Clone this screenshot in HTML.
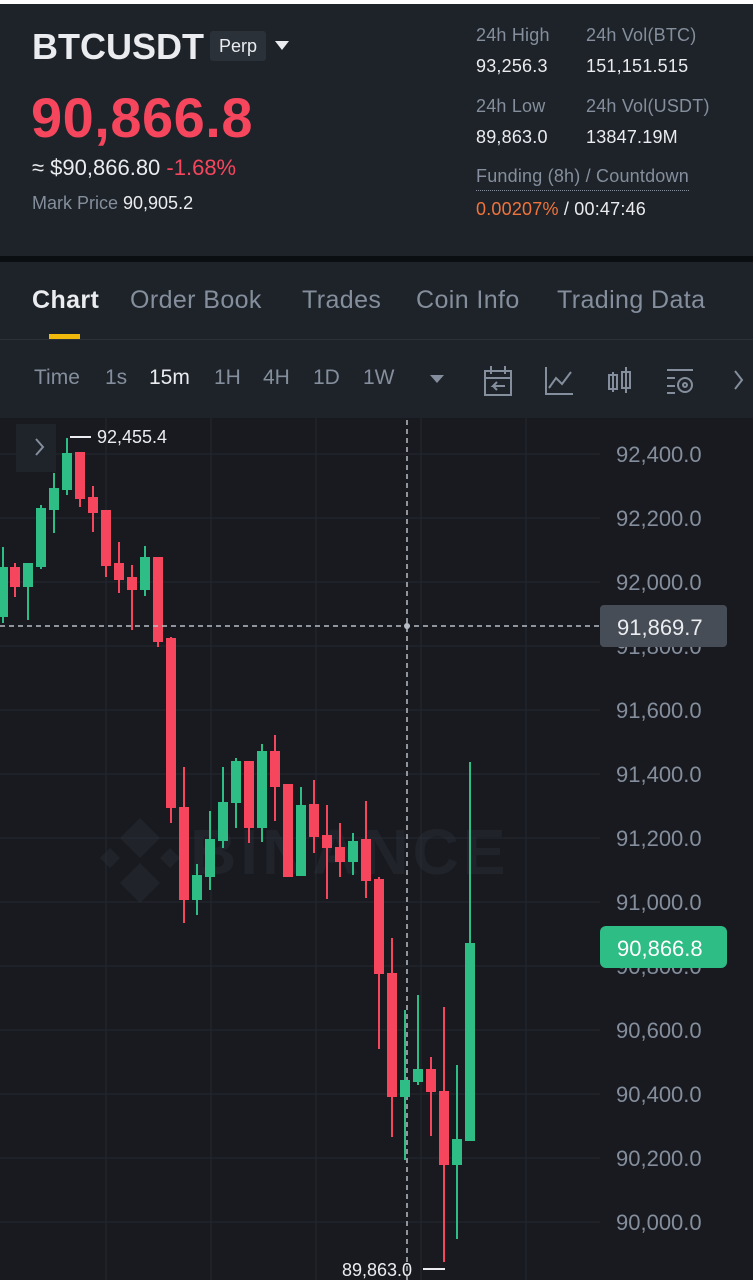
<!DOCTYPE html>
<html><head><meta charset="utf-8"><style>
*{margin:0;padding:0;box-sizing:border-box}
body{width:753px;height:1280px;background:#181a20;font-family:"Liberation Sans",sans-serif;overflow:hidden;position:relative}
.t{position:absolute;white-space:nowrap}
.tab{font-size:25px;letter-spacing:0.4px}
.s{font-size:18px;letter-spacing:0.2px}
</style></head><body>
<div style="position:absolute;left:0;top:0;width:753px;height:4px;background:#fff"></div>
<div style="position:absolute;left:0;top:4px;width:753px;height:252px;background:#1e2329"></div>
<div style="position:absolute;left:0;top:256px;width:753px;height:6px;background:#0b0e11"></div>
<div style="position:absolute;left:0;top:262px;width:753px;height:156px;background:#1e2329"></div>
<div style="position:absolute;left:0;top:339px;width:753px;height:1px;background:#2b3139"></div>
<div class="t" style="left:32px;top:26px;font-size:36px;font-weight:bold;color:#eaecef">BTCUSDT</div>
<div class="t" style="left:210px;top:31px;width:56px;height:30px;background:#2b3139;border-radius:3px;color:#eaecef;font-size:18px;line-height:30px;text-align:center">Perp</div>
<div class="t" style="left:275px;top:41px;width:0;height:0;border-left:7px solid transparent;border-right:7px solid transparent;border-top:9px solid #eaecef"></div>
<div class="t" style="left:31px;top:85px;font-size:56px;font-weight:bold;color:#f6465d;letter-spacing:0.5px">90,866.8</div>
<div class="t" style="left:32px;top:155px;font-size:22px;color:#eaecef">≈ $90,866.80 <span style="color:#f6465d">-1.68%</span></div>
<div class="t" style="left:32px;top:193px;font-size:18px;color:#848e9c">Mark Price <span style="color:#eaecef">90,905.2</span></div>
<div class="t s" style="left:476px;top:25px;color:#848e9c">24h High</div>
<div class="t s" style="left:476px;top:56px;color:#eaecef">93,256.3</div>
<div class="t s" style="left:586px;top:25px;color:#848e9c">24h Vol(BTC)</div>
<div class="t s" style="left:586px;top:56px;color:#eaecef">151,151.515</div>
<div class="t s" style="left:476px;top:96px;color:#848e9c">24h Low</div>
<div class="t s" style="left:476px;top:127px;color:#eaecef">89,863.0</div>
<div class="t s" style="left:586px;top:96px;color:#848e9c">24h Vol(USDT)</div>
<div class="t s" style="left:586px;top:127px;color:#eaecef">13847.19M</div>
<div class="t s" style="left:476px;top:166px;color:#848e9c;border-bottom:1px dotted #848e9c;padding-bottom:3px">Funding (8h) / Countdown</div>
<div class="t s" style="left:476px;top:199px;color:#eaecef"><span style="color:#f0733c">0.00207%</span> / 00:47:46</div>
<div class="t tab" style="left:32px;top:286px;font-weight:bold;color:#eaecef">Chart</div>
<div class="t tab" style="left:130px;top:286px;color:#848e9c">Order Book</div>
<div class="t tab" style="left:302px;top:286px;color:#848e9c">Trades</div>
<div class="t tab" style="left:416px;top:286px;color:#848e9c">Coin Info</div>
<div class="t tab" style="left:557px;top:286px;color:#848e9c">Trading Data</div>
<div class="t" style="left:49px;top:334px;width:31px;height:5px;background:#f0b90b"></div>
<div class="t" style="left:34px;top:366px;font-size:21px;color:#848e9c">Time</div>
<div class="t" style="left:105px;top:366px;font-size:21px;color:#848e9c">1s</div>
<div class="t" style="left:149px;top:366px;font-size:21px;color:#eaecef">15m</div>
<div class="t" style="left:214px;top:366px;font-size:21px;color:#848e9c">1H</div>
<div class="t" style="left:263px;top:366px;font-size:21px;color:#848e9c">4H</div>
<div class="t" style="left:313px;top:366px;font-size:21px;color:#848e9c">1D</div>
<div class="t" style="left:363px;top:366px;font-size:21px;color:#848e9c">1W</div>
<svg class="t" style="left:0;top:350px" width="753" height="60" fill="none" stroke="#848e9c" stroke-width="2">
<path d="M430 25 l7 8 l7 -8z" fill="#848e9c" stroke="none"/>
<rect x="485" y="21" width="26" height="24"/><path d="M485 28h26M491 16v8M505 16v8M505 36h-12l4 -4M493 36l4 4"/>
<path d="M546 17v27h27M549 38l7 -10l6 6l9 -12"/>
<path d="M613 22v20M609 25h8v14h-8zM626 17v26M622 22h8v16h-8z"/>
<path d="M667 20h26M667 28h8M667 36h8M667 43h8"/><circle cx="685" cy="35" r="7"/><circle cx="685" cy="35" r="2"/>
<path d="M735 21l7 9l-7 9"/>
</svg>
<svg class="t" style="left:0;top:418px" width="753" height="862">
<g stroke="#232831" stroke-width="1">
<line x1="106" y1="0" x2="106" y2="862"/><line x1="211" y1="0" x2="211" y2="862"/><line x1="316" y1="0" x2="316" y2="862"/><line x1="421" y1="0" x2="421" y2="862"/><line x1="526" y1="0" x2="526" y2="862"/>
<line x1="0" y1="36" x2="600" y2="36"/><line x1="0" y1="100" x2="600" y2="100"/><line x1="0" y1="164" x2="600" y2="164"/><line x1="0" y1="228" x2="600" y2="228"/><line x1="0" y1="292" x2="600" y2="292"/><line x1="0" y1="356" x2="600" y2="356"/><line x1="0" y1="420" x2="600" y2="420"/><line x1="0" y1="484" x2="600" y2="484"/><line x1="0" y1="548" x2="600" y2="548"/><line x1="0" y1="612" x2="600" y2="612"/><line x1="0" y1="676" x2="600" y2="676"/><line x1="0" y1="740" x2="600" y2="740"/><line x1="0" y1="804" x2="600" y2="804"/>
</g>
<rect x="16" y="6" width="40" height="48" fill="#1f232a"/>
<path d="M36 21l7 8l-7 8" stroke="#848e9c" stroke-width="2" fill="none"/>
<g opacity="0.45"><text x="190" y="456" font-size="64" font-weight="bold" fill="#2b3038" letter-spacing="4">BINANCE</text>
<path d="M140 400l20 20l-20 20l-20 -20zM110 430l10 10l-10 10l-10 -10zM170 430l10 10l-10 10l-10 -10zM140 445l20 20l-20 20l-20 -20z" fill="#2b3038"/></g>
</svg>
<svg class="t" style="left:0;top:0" width="753" height="1280" id="c"></svg>
<script>
var d=[[3,617,567,547,623],[15,567,587,563,597],[28,587,563,563,620],[41,567,508,505,569],[54,510,488,473,533],[67,490,453,438,495],[80,452,499,452,507],[93,497,513,486,532],[106,510,566,510,577],[119,563,580,542,593],[132,577,590,565,630],[145,590,557,546,596],[158,557,642,557,647],[171,638,808,637,823],[184,807,900,767,923],[197,900,875,864,915],[210,877,839,811,890],[223,841,802,767,848],[236,803,761,758,828],[249,761,828,761,843],[262,828,751,744,842],[275,751,787,735,821],[288,784,877,784,877],[301,876,805,787,876],[314,804,837,780,853],[327,835,848,805,899],[340,847,862,823,877],[353,862,841,833,875],[366,839,881,801,898],[379,879,974,877,1049],[392,973,1097,938,1137],[405,1097,1080,1010,1160],[418,1082,1069,995,1085],[431,1069,1092,1057,1136],[444,1091,1165,1007,1262],[457,1165,1139,1065,1239],[470,1141,943,762,1141]];
var s='';
s+='<line x1="407" y1="420" x2="407" y2="1280" stroke="#b7bdc6" stroke-width="1.5" stroke-dasharray="5,4"/>';
d.forEach(function(c){var g=c[2]<c[1];var col=g?'#2ebd85':'#f6465d';var t=Math.min(c[1],c[2]),b=Math.max(c[1],c[2]);
s+='<line x1="'+c[0]+'" y1="'+c[3]+'" x2="'+c[0]+'" y2="'+c[4]+'" stroke="'+col+'" stroke-width="2"/>';
s+='<rect x="'+(c[0]-5)+'" y="'+t+'" width="10" height="'+Math.max(b-t,2)+'" fill="'+col+'"/>';});
s+='<line x1="0" y1="626" x2="600" y2="626" stroke="#b7bdc6" stroke-width="1.5" stroke-dasharray="5,4"/>';
s+='<circle cx="407" cy="626" r="3" fill="#b7bdc6"/>';
var p=['92,400.0','92,200.0','92,000.0','91,800.0','91,600.0','91,400.0','91,200.0','91,000.0','90,800.0','90,600.0','90,400.0','90,200.0','90,000.0'];
p.forEach(function(v,i){s+='<text x="616" y="'+(462+64*i)+'" font-size="22" fill="#848e9c" font-family="Liberation Sans">'+v+'</text>';});
s+='<rect x="600" y="605" width="127" height="42" rx="4" fill="#474d57"/><text x="617" y="635" font-size="22" fill="#eaecef" font-family="Liberation Sans">91,869.7</text>';
s+='<rect x="600" y="926" width="127" height="42" rx="6" fill="#2ebd85"/><text x="617" y="956" font-size="22" fill="#fff" font-family="Liberation Sans">90,866.8</text>';
s+='<line x1="70" y1="437" x2="91" y2="437" stroke="#eaecef" stroke-width="2"/><text x="97" y="443" font-size="18" fill="#eaecef" font-family="Liberation Sans">92,455.4</text>';
s+='<text x="342" y="1276" font-size="18" fill="#eaecef" font-family="Liberation Sans">89,863.0</text><line x1="423" y1="1269" x2="445" y2="1269" stroke="#eaecef" stroke-width="2"/>';
document.getElementById('c').innerHTML=s;
</script>
</body></html>
